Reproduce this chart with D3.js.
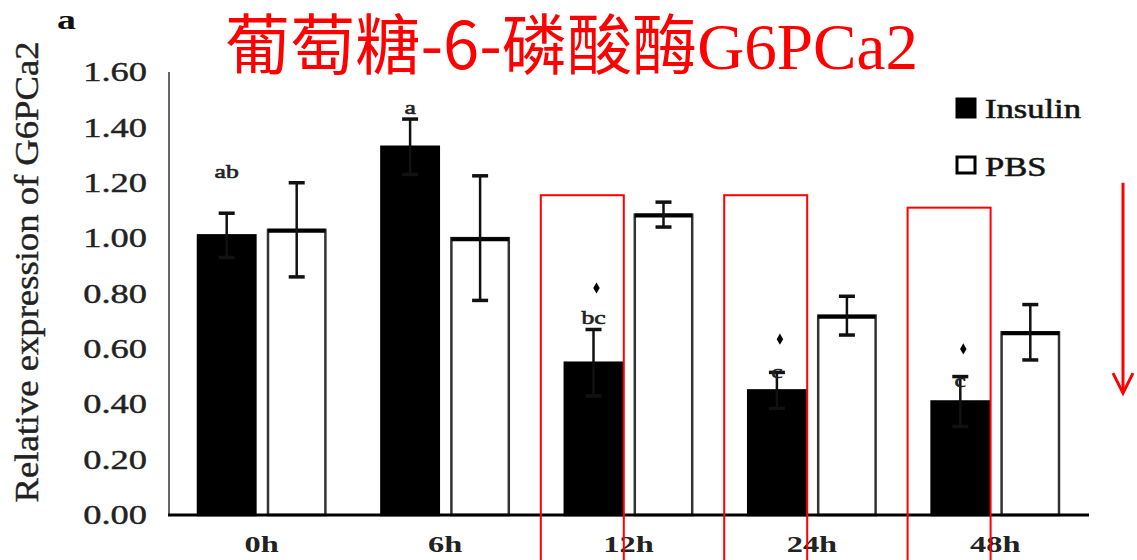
<!DOCTYPE html>
<html lang="en">
  <head>
    <meta charset="utf-8">
    <title>G6PCa2 relative expression</title>
    <script type="text/javascript" src="https://cdn.jsdelivr.net/npm/d3@7/dist/d3.min.js"></script>
    <style>
    body { margin: 0; background: #fff; }
    </style>
  </head>
  <body>
    <script type="text/javascript">
      // values
      var categories = ["0h", "6h", "12h", "24h", "48h"];
      var series = ["Insulin", "PBS"];
      var insulin = [1.01, 1.33, 0.55, 0.45, 0.41];
      var insulinErr = [0.08, 0.10, 0.12, 0.065, 0.09];
      var pbs = [1.03, 1.00, 1.085, 0.72, 0.66];
      var pbsErr = [0.17, 0.225, 0.045, 0.07, 0.10];
      var letters = ["ab", "a", "bc", "c", "c"];
      var letterAt = [1.24, 1.47, 0.71, 0.515, 0.485];
      var starAt = [null, null, 0.82, 0.635, 0.60];
      var yTicks = [0, 0.2, 0.4, 0.6, 0.8, 1.0, 1.2, 1.4, 1.6];
      var highlight = ["12h", "24h", "48h"];
      var highlightTop = [1.155, 1.155, 1.11];
      var arrowFrom = 1.2, arrowTo = 0.44;

      var w = 1137, h = 560;
      var plotLeft = 170, plotRight = 1087, plotTop = 72, plotBottom = 515;
      var stretchX = 1.35;   // the figure is squashed wide, text too
      var serif = "Liberation Serif";

      // widen text horizontally to match the stretched original
      function stretch(sel, k) {
        sel.each(function() {
          var len = this.getComputedTextLength();
          d3.select(this).attr("textLength", len * k)
                         .attr("lengthAdjust", "spacingAndGlyphs");
        });
      }
      // blurry scan makes the text look heavier
      function ink(sel, sw) {
        sel.attr("stroke", "#222").attr("stroke-width", sw);
      }

      var svg = d3.select("body").append("svg")
                  .attr("width", w)
                  .attr("height", h);

      var x0 = d3.scaleBand()
                 .domain(categories)
                 .range([plotLeft, plotRight]);
      var x1 = d3.scaleBand()
                 .domain(series)
                 .range([0, x0.bandwidth()])
                 .paddingInner(0.18)
                 .paddingOuter(0.4);
      var y = d3.scaleLinear()
                .domain([0, 1.6])
                .range([plotBottom, plotTop]);

      var rows = categories.map(function(c, i) {
        return {cat: c, i: i,
                vals: [{s: "Insulin", v: insulin[i], e: insulinErr[i]},
                       {s: "PBS", v: pbs[i], e: pbsErr[i]}]};
      });

      // y axis
      var yAxis = svg.append("g")
         .attr("transform", "translate(" + (plotLeft - 1) + ",0)")
         .call(d3.axisLeft(y).tickValues(yTicks)
                 .tickFormat(d3.format(".2f"))
                 .tickSize(0).tickPadding(22));
      yAxis.attr("font-family", serif);
      yAxis.select(".domain").remove();
      yAxis.selectAll("text")
           .attr("font-size", "27px")
           .attr("font-family", serif)
           .attr("fill", "#222")
           .call(ink, 0.4)
           .call(stretch, stretchX);
      svg.append("line")
         .attr("x1", plotLeft - 1).attr("x2", plotLeft - 1)
         .attr("y1", y(1.6)).attr("y2", y(0))
         .attr("stroke", "#666")
         .attr("stroke-width", 2);

      // bars
      var groups = svg.selectAll("g.grp")
                      .data(rows)
                      .enter()
                      .append("g")
                      .attr("class", "grp")
                      .attr("transform", function(d) {
                        return "translate(" + x0(d.cat) + ",0)";
                      });

      groups.selectAll("rect")
            .data(function(d) { return d.vals; })
            .enter()
            .append("rect")
            .attr("x", function(d) { return x1(d.s); })
            .attr("y", function(d) { return y(d.v); })
            .attr("width", x1.bandwidth())
            .attr("height", function(d) { return y(0) - y(d.v); })
            .attr("fill", function(d) { return d.s === "Insulin" ? "#000" : "#fff"; })
            .attr("stroke", function(d) { return d.s === "Insulin" ? "#000" : "#333"; })
            .attr("stroke-width", 2.5);

      // PBS bar tops look heavier
      groups.selectAll("line.top")
            .data(function(d) { return d.vals.filter(function(v) { return v.s === "PBS"; }); })
            .enter()
            .append("line")
            .attr("class", "top")
            .attr("x1", function(d) { return x1(d.s); })
            .attr("x2", function(d) { return x1(d.s) + x1.bandwidth(); })
            .attr("y1", function(d) { return y(d.v) + 1; })
            .attr("y2", function(d) { return y(d.v) + 1; })
            .attr("stroke", "#000")
            .attr("stroke-width", 4);

      // error bars
      var cap = 8;
      var err = groups.selectAll("g.err")
                      .data(function(d) { return d.vals; })
                      .enter()
                      .append("g")
                      .attr("class", "err")
                      .attr("stroke", "#111");
      err.append("line")
         .attr("x1", function(d) { return x1(d.s) + x1.bandwidth() / 2; })
         .attr("x2", function(d) { return x1(d.s) + x1.bandwidth() / 2; })
         .attr("y1", function(d) { return y(d.v + d.e); })
         .attr("y2", function(d) { return y(d.v - d.e); })
         .attr("stroke-width", 2.5);
      err.append("line")
         .attr("x1", function(d) { return x1(d.s) + x1.bandwidth() / 2 - cap; })
         .attr("x2", function(d) { return x1(d.s) + x1.bandwidth() / 2 + cap; })
         .attr("y1", function(d) { return y(d.v + d.e); })
         .attr("y2", function(d) { return y(d.v + d.e); })
         .attr("stroke-width", 3.5);
      err.append("line")
         .attr("x1", function(d) { return x1(d.s) + x1.bandwidth() / 2 - cap; })
         .attr("x2", function(d) { return x1(d.s) + x1.bandwidth() / 2 + cap; })
         .attr("y1", function(d) { return y(d.v - d.e); })
         .attr("y2", function(d) { return y(d.v - d.e); })
         .attr("stroke-width", 3.5);

      // significance letters and stars over the insulin bars
      var insMid = function(i) {
        return x0(categories[i]) + x1("Insulin") + x1.bandwidth() / 2;
      };
      svg.selectAll("text.letter")
         .data(letters)
         .enter()
         .append("text")
         .attr("class", "letter")
         .text(function(d) { return d; })
         .attr("x", function(d, i) { return insMid(i); })
         .attr("y", function(d, i) { return y(letterAt[i]) + 6; })
         .attr("text-anchor", "middle")
         .attr("font-family", serif)
         .attr("font-size", "19px")
         .attr("fill", "#222")
         .call(ink, 0.6)
         .call(stretch, stretchX);

      svg.selectAll("path.star")
         .data(starAt.map(function(v, i) { return {v: v, i: i}; })
                     .filter(function(d) { return d.v !== null; }))
         .enter()
         .append("path")
         .attr("class", "star")
         .attr("d", d3.symbol(d3.symbolDiamond, 36))
         .attr("transform", function(d) {
           return "translate(" + (insMid(d.i) + 3) + "," + y(d.v) + ")";
         })
         .attr("fill", "#000");

      // x axis baseline + labels
      svg.append("line")
         .attr("x1", plotLeft - 2).attr("x2", plotRight + 2)
         .attr("y1", y(0)).attr("y2", y(0))
         .attr("stroke", "#000")
         .attr("stroke-width", 3);
      var xAxis = svg.append("g")
         .attr("transform", "translate(0," + y(0) + ")")
         .call(d3.axisBottom(x0).tickSize(0).tickPadding(20));
      xAxis.attr("font-family", serif);
      xAxis.select(".domain").remove();
      xAxis.selectAll("text")
           .attr("font-size", "24px")
           .attr("font-weight", "bold")
           .attr("font-family", serif)
           .attr("fill", "#222")
           .call(stretch, stretchX);

      // y axis title
      svg.append("text")
         .text("Relative expression of G6PCa2")
         .attr("transform", "translate(38," + 272 + ") rotate(-90)")
         .attr("text-anchor", "middle")
         .attr("font-family", serif)
         .attr("font-size", "33px")
         .attr("fill", "#222")
         .call(ink, 0.4)
         .attr("textLength", 461)
         .attr("lengthAdjust", "spacingAndGlyphs");

      // panel letter
      svg.append("text")
         .text("a")
         .attr("x", 57).attr("y", 29)
         .attr("font-family", serif)
         .attr("font-size", "28px")
         .attr("font-weight", "bold")
         .attr("fill", "#111")
         .call(stretch, stretchX);

      // legend
      var legend = svg.append("g")
                      .attr("transform", "translate(955,97)");
      var li = legend.selectAll("g")
                     .data(series)
                     .enter()
                     .append("g")
                     .attr("transform", function(d, i) { return "translate(0," + (i * 58) + ")"; });
      li.append("rect")
        .attr("x", function(d) { return d === "Insulin" ? 1 : 2; })
        .attr("y", function(d) { return d === "Insulin" ? 1 : 2; })
        .attr("width", function(d) { return d === "Insulin" ? 20 : 18; })
        .attr("height", function(d) { return d === "Insulin" ? 20 : 16; })
        .attr("fill", function(d) { return d === "Insulin" ? "#000" : "#fff"; })
        .attr("stroke", "#000")
        .attr("stroke-width", function(d) { return d === "Insulin" ? 1 : 3; });
      li.append("text")
        .text(function(d) { return d; })
        .attr("x", 30)
        .attr("y", 21)
        .attr("font-family", serif)
        .attr("font-size", "27px")
        .attr("fill", "#111")
        .call(ink, 0.6)
        .call(stretch, 1.28);

      // red overlay: title, highlight boxes, arrow
      var title = svg.append("text")
                     .attr("x", 225)
                     .attr("y", 69)
                     .attr("fill", "#ff0000")
                     .attr("font-size", "66px");
      title.append("tspan")
           .attr("font-family", "Noto Sans CJK SC")
           .text("葡萄糖-6-磷酸酶");
      title.append("tspan")
           .attr("font-family", serif)
           .text("G6PCa2");
      title.attr("textLength", 693)
           .attr("lengthAdjust", "spacingAndGlyphs");

      svg.selectAll("rect.hl")
         .data(highlight)
         .enter()
         .append("rect")
         .attr("class", "hl")
         .attr("x", function(d) { return x0(d) + x1("Insulin") - 24; })
         .attr("y", function(d, i) { return y(highlightTop[i]); })
         .attr("width", 83)
         .attr("height", function(d, i) { return h + 10 - y(highlightTop[i]); })
         .attr("fill", "none")
         .attr("stroke", "#ff0000")
         .attr("stroke-width", 2);

      var ax = plotRight + 36;
      svg.append("line")
         .attr("x1", ax).attr("x2", ax)
         .attr("y1", y(arrowFrom)).attr("y2", y(arrowTo) - 1)
         .attr("stroke", "#ff0000")
         .attr("stroke-width", 3);
      svg.append("path")
         .attr("d", "M" + (ax - 10) + "," + (y(arrowTo) - 20) +
                    "L" + ax + "," + y(arrowTo) +
                    "L" + (ax + 10) + "," + (y(arrowTo) - 20))
         .attr("fill", "none")
         .attr("stroke", "#ff0000")
         .attr("stroke-width", 3);
    </script>
  </body>
</html>
